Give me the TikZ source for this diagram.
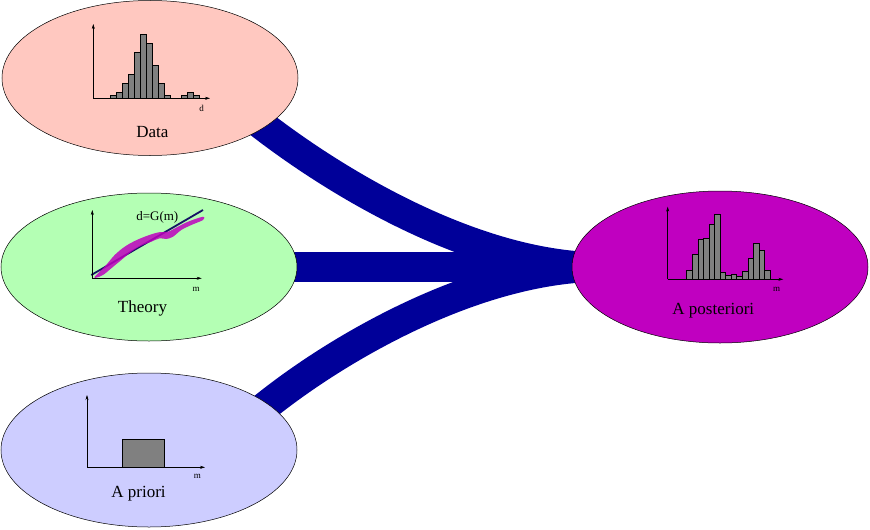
\documentclass[tikz,border=0pt]{standalone}
\usepackage{fontspec}
\setmainfont{Liberation Serif}
\usetikzlibrary{shapes.geometric,arrows.meta}
\pgfdeclarelayer{background}
\pgfsetlayers{background,main}
\definecolor{datafill}{RGB}{255,200,192}
\definecolor{theoryfill}{RGB}{180,255,180}
\definecolor{priorfill}{RGB}{205,205,255}
\definecolor{postfill}{RGB}{192,0,192}
\definecolor{bandblue}{RGB}{0,0,153}
\definecolor{bargray}{RGB}{128,128,128}
\definecolor{curvemag}{RGB}{190,0,190}
\definecolor{linenavy}{RGB}{20,20,100}
\begin{document}
\begin{tikzpicture}[x=1pt,y=-1pt,
 blob/.style={ellipse,draw=black,line width=0.5pt,minimum width=296pt,inner sep=0pt},
 band/.style={draw=bandblue,line width=30pt,line join=round},
 axis/.style={draw=black,line width=0.5pt,-{Stealth[length=5pt,width=3pt]}},
 bar/.style={fill=bargray,draw=black,line width=0.5pt},
 biglabel/.style={font=\fontsize{17}{20}\selectfont,inner sep=0pt},
 smalllabel/.style={font=\fontsize{9}{10}\selectfont,inner sep=0pt}]
\useasboundingbox (0,0) rectangle (870,530);

% ellipses
\node[blob,fill=datafill,minimum height=155pt] (data) at (150,78) {};
\node[blob,fill=theoryfill,minimum height=148pt] (theory) at (149,267) {};
\node[blob,fill=priorfill,minimum height=154pt] (prior) at (149,450) {};
\node[blob,fill=postfill,minimum height=152pt] (post) at (720,267) {};

% connector helper coordinates
\coordinate (du0) at (223,95);
\coordinate (du) at (262,125);
\coordinate (pl0) at (228,436);
\coordinate (pl) at (267,405);
\coordinate (pm) at (590,267);

\begin{pgfonlayer}{background}
\draw[band] (theory.center) -- (post.center);
\draw[band] (data.center) -- (du0) -- (du) .. controls (340,185) and (470,262) .. (pm) -- (post.center);
\draw[band] (prior.center) -- (pl0) -- (pl) .. controls (340,347) and (470,272) .. (pm) -- (post.center);
\end{pgfonlayer}

% Data histogram
\foreach \xa/\xb/\t in {110.7/116.7/95.7,116.7/122.7/92.3,122.7/128.7/83.3,128.7/134.7/74.3,
  134.7/140.7/52.7,140.7/146.7/34.3,146.7/152.7/43.7,152.7/158.7/65,158.7/164.7/83.3,
  164.7/170.7/95.7,181.3/187.3/95.7,187.3/193.3/92.3,193.3/199.3/95.7}
  \draw[bar] (\xa,98.3) rectangle (\xb,\t);
\draw[axis] (93.3,98.3) -- (93.3,24);
\draw[axis] (93.3,98.3) -- (210,98.3);
\node[smalllabel] (dlab) at (201.7,108.3) {d};
\node[biglabel] (datalab) at (152.3,132.3) {Data};

% Theory
\draw[linenavy,line width=1.8pt] (91.3,275) -- (203,210);
\fill[curvemag,opacity=0.85] plot[smooth cycle,tension=0.55] coordinates {
 (94.7,276.7) (104.7,266.7) (114.7,255) (124.7,246.7) (134.7,241) (144.7,236.7)
 (154.7,233.3) (161,232) (168,231.7) (178,226.7) (188,221.7) (203,216.7)
 (203,220) (191.3,225) (181.3,230) (173,236.7) (166.3,239) (159.7,238.3)
 (151.3,241.7) (141.3,245.7) (131.3,251.7) (121.3,260) (111.3,268.3) (103,275) (96.3,277.7)};
\draw[axis] (92.3,278.3) -- (92.3,210);
\draw[axis] (92.3,278.3) -- (201.7,278.3);
\node[font=\fontsize{13}{15}\selectfont,inner sep=0pt] (glab) at (157.3,217.7) {d=G(m)};
\node[smalllabel] (mth) at (196,289.3) {m};
\node[biglabel] (theorylab) at (142.5,308.5) {Theory};

% A priori
\draw[bar] (122.3,439) rectangle (164.3,467.3);
\draw[axis] (87,467.3) -- (87,395);
\draw[axis] (87,467.3) -- (205,467.3);
\node[smalllabel] (mpr) at (197.3,476.7) {m};
\node[biglabel] (priorlab) at (138.5,494) {A priori};

% A posteriori
\foreach \xa/\xb/\t in {686.7/692.3/270,692.3/697.8/254.3,697.8/703.4/239.3,703.4/708.9/238.7,
  708.9/714.5/224,714.5/720.1/214.3,720.1/725.6/272.7,725.6/731.2/275.7,731.2/736.7/274.3,
  736.7/742.3/276.7,742.3/747.9/271.7,747.9/753.4/258.3,753.4/759.0/243.3,759.0/764.5/250,
  764.5/770.1/270}
  \draw[bar] (\xa,279.3) rectangle (\xb,\t);
\draw[axis] (667.7,279.3) -- (667.7,206.7);
\draw[axis] (667.7,279.3) -- (783.3,279.3);
\node[smalllabel] (mpo) at (776.7,289) {m};
\node[biglabel] (postlab) at (713.3,311) {A posteriori};
\end{tikzpicture}
\end{document}
